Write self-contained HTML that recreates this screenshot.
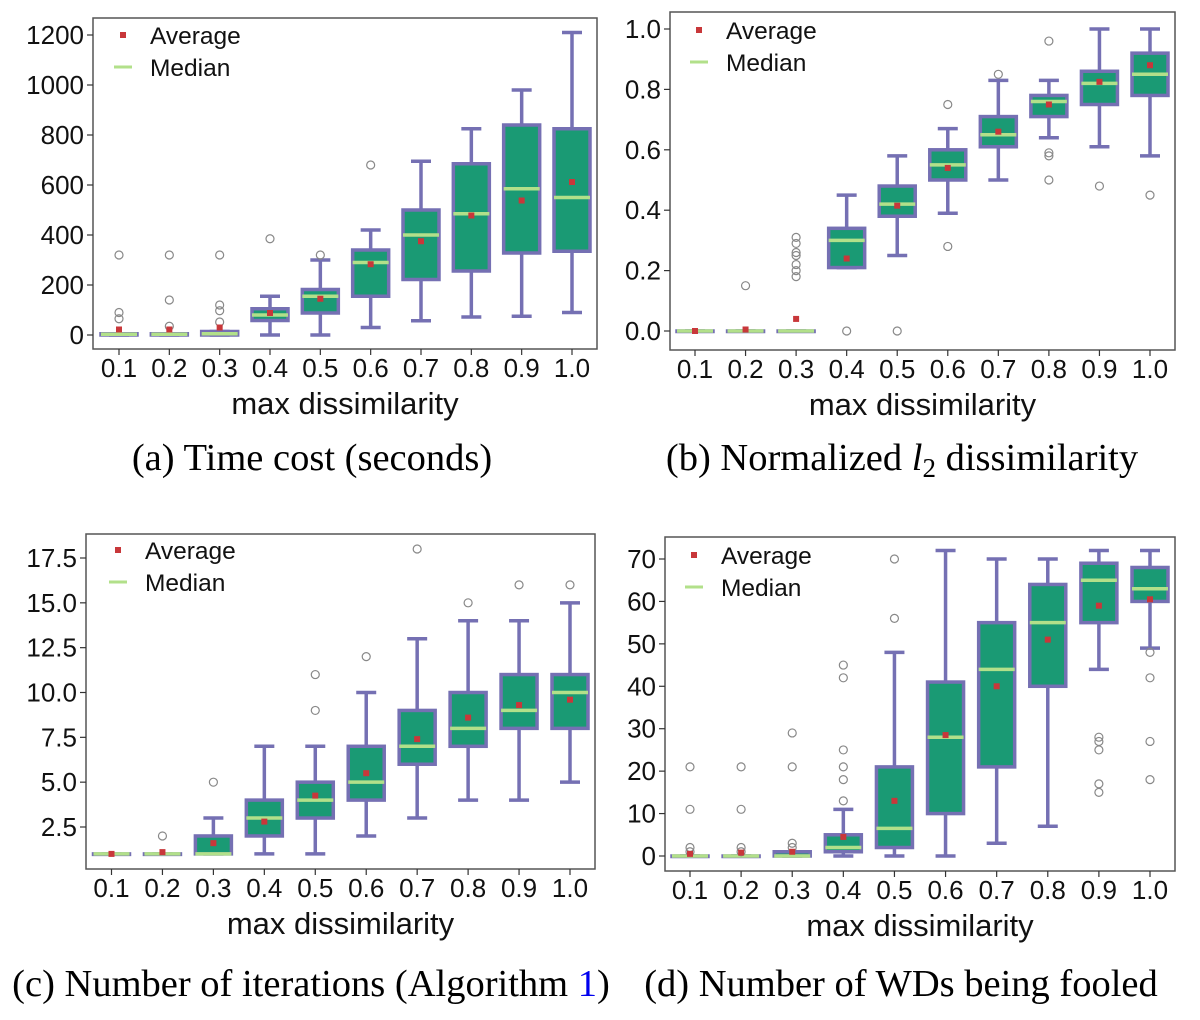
<!DOCTYPE html>
<html><head><meta charset="utf-8"><style>
body{margin:0;background:#fff;width:1200px;height:1015px;overflow:hidden}
svg text{font-family:"Liberation Sans",sans-serif}
.cap{font-family:"Liberation Serif",serif;font-size:38.5px;fill:#000}
</style></head><body>
<svg id="fig" width="1200" height="1015"></svg>
<script>
const categories = ["0.1","0.2","0.3","0.4","0.5","0.6","0.7","0.8","0.9","1.0"];
// [whiskerLow, q1, median, q3, whiskerHigh]
const timeBoxes = [[0,0,3,5,5],[0,0,3,5,5],[0,0,5,14,14],[0,58,80,105,155],[0,88,155,182,300],[30,155,290,340,420],[57,222,400,500,695],[72,256,485,685,825],[75,328,585,840,980],[90,335,550,825,1210]];
const timeMeans = [22,22,30,88,145,283,375,478,538,612];
const timeOutliers = [[320,90,65],[320,140,35],[320,120,97,52],[385],[320],[680],[],[],[],[]];
const timeTicks = [0,200,400,600,800,1000,1200];
const l2Boxes = [[0,0,0,0,0],[0,0,0,0,0],[0,0,0,0,0],[0.21,0.21,0.3,0.34,0.45],[0.25,0.38,0.42,0.48,0.58],[0.39,0.5,0.55,0.6,0.67],[0.5,0.61,0.65,0.71,0.83],[0.64,0.71,0.76,0.78,0.83],[0.61,0.75,0.82,0.86,1.0],[0.58,0.78,0.85,0.92,1.0]];
const l2Means = [0,0.005,0.04,0.24,0.415,0.54,0.66,0.75,0.825,0.88];
const l2Outliers = [[],[0.15],[0.31,0.29,0.26,0.25,0.22,0.2,0.18],[0],[0],[0.75,0.28],[0.85],[0.96,0.59,0.58,0.5],[0.48],[0.45]];
const l2Ticks = [0,0.2,0.4,0.6,0.8,1.0];
const iterBoxes = [[1,1,1,1,1],[1,1,1,1,1],[1,1,1,2,3],[1,2,3,4,7],[1,3,4,5,7],[2,4,5,7,10],[3,6,7,9,13],[4,7,8,10,14],[4,8,9,11,14],[5,8,10,11,15]];
const iterMeans = [1,1.1,1.6,2.8,4.25,5.5,7.4,8.6,9.3,9.6];
const iterOutliers = [[],[2],[5],[],[11,9],[12],[18],[15],[16],[16]];
const iterTicks = [2.5,5,7.5,10,12.5,15,17.5];
const wdBoxes = [[0,0,0,0,0],[0,0,0,0,0],[0,0,0,1,1],[0,1,2,5,11],[0,2,6.5,21,48],[0,10,28,41,72],[3,21,44,55,70],[7,40,55,64,70],[44,55,65,69,72],[49,60,63,68,72]];
const wdMeans = [0.5,0.8,1,4.5,13,28.5,40,51,59,60.5];
const wdOutliers = [[21,11,2,1],[21,11,2,1],[29,21,3,2],[45,42,25,21,18,13],[70,56],[],[],[],[28,27,25,17,15],[48,42,27,18]];
const wdTicks = [0,10,20,30,40,50,60,70];

const NS="http://www.w3.org/2000/svg", svg=document.getElementById('fig');
function mk(tag,attrs,parent,text){const e=document.createElementNS(NS,tag);for(const k in attrs)e.setAttribute(k,attrs[k]);if(text!==undefined)e.textContent=text;(parent||svg).appendChild(e);return e;}

function panel(p){
  const g=mk('g',{});
  
  
  const y=v=>p.y0+(v-p.v0)*(p.y1-p.y0)/(p.v1-p.v0);
  const x=i=>p.x0+i*(p.x1-p.x0)/(categories.length-1);
  const fr=mk('rect',{x:p.L,y:p.T,width:p.R-p.L,height:p.B-p.T,fill:'none',stroke:'#555','stroke-width':1.5},g);
  
  
  p.ticks.forEach(t=>{
    mk('line',{x1:p.L-6,x2:p.L,y1:y(t),y2:y(t),stroke:'#333','stroke-width':1.2},g);
    const tl=mk('text',{x:p.L-9,y:y(t)+9,'text-anchor':'end','font-size':26,fill:'#111'},g,p.fmt(t));
    
    
  });
  categories.forEach((c,i)=>{
    mk('line',{x1:x(i),x2:x(i),y1:p.B,y2:p.B+6,stroke:'#333','stroke-width':1.2},g);
    const tl=mk('text',{x:x(i),y:p.B+28,'text-anchor':'middle','font-size':26,fill:'#111'},g,c);
    
    
  });
  const xt=mk('text',{x:(p.L+p.R)/2,y:p.B+65,'text-anchor':'middle','font-size':31,fill:'#111'},g,'max dissimilarity');
  
  
  const hw=18, cw=10;
  p.boxes.forEach((b,i)=>{
    const bg=mk('g',{},g);
    
    
    const cx=x(i),st={stroke:'#7570b3','stroke-width':3.5};
    mk('line',Object.assign({x1:cx,x2:cx,y1:y(b[0]),y2:y(b[1])},st),bg);
    mk('line',Object.assign({x1:cx,x2:cx,y1:y(b[3]),y2:y(b[4])},st),bg);
    mk('line',Object.assign({x1:cx-cw,x2:cx+cw,y1:y(b[0]),y2:y(b[0])},st),bg);
    mk('line',Object.assign({x1:cx-cw,x2:cx+cw,y1:y(b[4]),y2:y(b[4])},st),bg);
    mk('rect',Object.assign({x:cx-hw,y:y(b[3]),width:2*hw,height:Math.max(0.5,y(b[1])-y(b[3])),fill:'#1a9a74'},st),bg);
    mk('line',{x1:cx-hw,x2:cx+hw,y1:y(b[2]),y2:y(b[2]),stroke:'#b2e08a','stroke-width':3.5},bg);
    p.out[i].forEach(o=>mk('circle',{cx:cx,cy:y(o),r:4,fill:'none',stroke:'#888','stroke-width':1.2},bg));
    mk('rect',{x:cx-3,y:y(p.means[i])-3,width:6,height:6,fill:'#c8373a'},bg);
  });
  const lg=mk('g',{},g);
  
  
  mk('rect',{x:p.lx-3,y:p.ly-3,width:6,height:6,fill:'#c8373a'},lg);
  mk('text',{x:p.lx+27,y:p.ly+9,'font-size':24.5,fill:'#111'},lg,'Average');
  mk('line',{x1:p.lx-9,x2:p.lx+9,y1:p.ly+32,y2:p.ly+32,stroke:'#b2e08a','stroke-width':3},lg);
  mk('text',{x:p.lx+27,y:p.ly+41,'font-size':24.5,fill:'#111'},lg,'Median');
}
panel({name:'time-cost-panel',L:93,R:597,T:18,B:349,y0:335,y1:35,v0:0,v1:1200,x0:119,x1:572,ticks:timeTicks,fmt:t=>String(t),boxes:timeBoxes,means:timeMeans,out:timeOutliers,lx:123,ly:35});
panel({name:'l2-panel',L:670,R:1175,T:12,B:350,y0:331,y1:29,v0:0,v1:1,x0:695,x1:1150,ticks:l2Ticks,fmt:t=>t.toFixed(1),boxes:l2Boxes,means:l2Means,out:l2Outliers,lx:699,ly:30});
panel({name:'iterations-panel',L:86,R:595,T:534,B:869,y0:827,y1:558,v0:2.5,v1:17.5,x0:111.5,x1:570,ticks:iterTicks,fmt:t=>t.toFixed(1),boxes:iterBoxes,means:iterMeans,out:iterOutliers,lx:118,ly:550});
panel({name:'wd-fooled-panel',L:665,R:1175,T:537,B:871,y0:856,y1:559,v0:0,v1:70,x0:690,x1:1150,ticks:wdTicks,fmt:t=>String(t),boxes:wdBoxes,means:wdMeans,out:wdOutliers,lx:694,ly:555});
</script>
<svg width="1200" height="1015" style="position:absolute;left:0;top:0">
<text class="cap" x="312" y="470" text-anchor="middle">(a) Time cost (seconds)</text>
<text class="cap" x="902" y="470" text-anchor="middle">(b) Normalized <tspan font-style="italic">l</tspan><tspan font-size="27" dy="7">2</tspan><tspan dy="-7"> dissimilarity</tspan></text>
<text class="cap" x="311" y="996" text-anchor="middle">(c) Number of iterations (Algorithm <tspan fill="#0000ee">1</tspan>)</text>
<text class="cap" x="901" y="996" text-anchor="middle">(d) Number of WDs being fooled</text>
</svg>
</body></html>
